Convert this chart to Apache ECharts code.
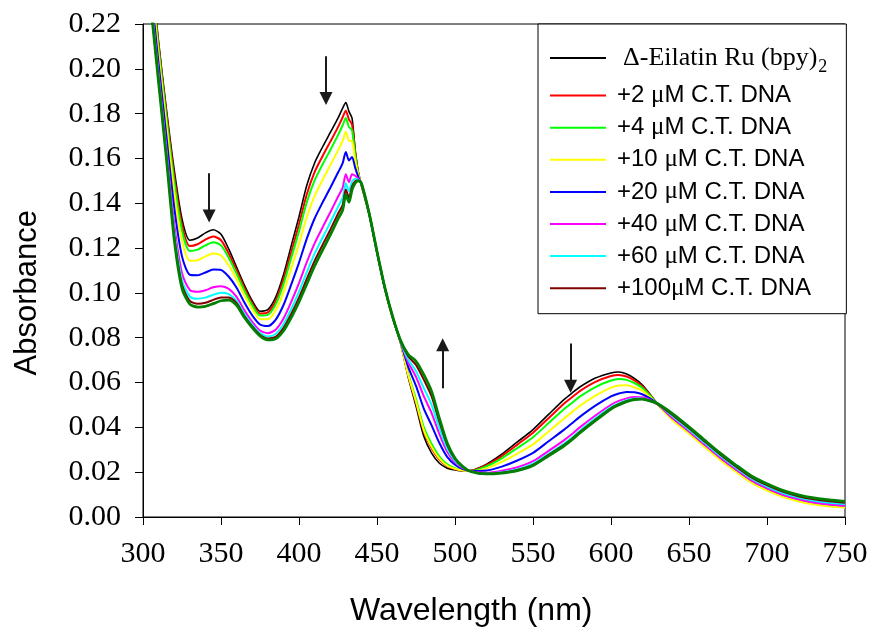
<!DOCTYPE html>
<html><head><meta charset="utf-8">
<script src="https://cdn.jsdelivr.net/npm/echarts@6/dist/echarts.min.js"></script>
<style>html,body{margin:0;padding:0;background:#fff}#c{width:873px;height:633px}</style>
</head><body><div id="c"></div>
<script>
const wavelength = [300,305,310,315,320,325,330,335,340,345,350,355,360,365,370,375,380,385,390,395,400,405,410,415,420,425,428,430,432,434,436,438,440,445,450,455,460,465,470,475,480,485,490,495,500,505,510,520,530,540,550,560,570,575,580,590,600,605,610,615,620,625,630,640,650,660,670,680,690,700,710,720,730,740,750];

const sBlack = [.275,.245,.212,.182,.155,.133,.1235,.1245,.1268,.1282,.1262,.1195,.1115,.1035,.0965,.0918,.0925,.0980,.1080,.1210,.1340,.1480,.1580,.1650,.1715,.1780,.1825,.1850,.1810,.1780,.1640,.1540,.1480,.1350,.1180,.1020,.0890,.0780,.0625,.0495,.0360,.0285,.0240,.0218,.0210,.0205,.0207,.0235,.0280,.0335,.0390,.0458,.0525,.0553,.0580,.0620,.0643,.0647,.0638,.0618,.0590,.0548,.0505,.0445,.0385,.0322,.0262,.0210,.0164,.0130,.0102,.0082,.0068,.0059,.0053];
const sRed = [.2738,.2435,.2104,.1800,.1522,.1302,.1209,.1217,.1238,.1252,.1235,.1175,.1100,.1022,.0954,.0908,.0913,.0963,.1058,.1181,.1306,.1440,.1539,.1609,.1674,.1740,.1784,.1813,.1774,.1751,.1627,.1536,.1481,.1351,.1181,.1021,.0891,.0781,.0633,.0511,.0382,.0307,.0256,.0227,.0214,.0207,.0206,.0231,.0272,.0323,.0376,.0441,.0506,.0534,.0562,.0603,.0629,.0634,.0627,.0610,.0584,.0545,.0503,.0439,.0383,.0324,.0266,.0213,.0164,.0129,.0100,.0080,.0066,.0057,.0051];
const sLime = [.2728,.2421,.2089,.1783,.1497,.1277,.1187,.1193,.1212,.1226,.1212,.1156,.1086,.1010,.0945,.0899,.0902,.0949,.1038,.1156,.1275,.1405,.1502,.1572,.1637,.1704,.1748,.1780,.1741,.1726,.1615,.1533,.1482,.1352,.1182,.1022,.0892,.0782,.0640,.0525,.0401,.0326,.0270,.0235,.0218,.0208,.0205,.0226,.0262,.0308,.0356,.0419,.0482,.0509,.0537,.0580,.0609,.0616,.0612,.0598,.0577,.0542,.0502,.0437,.0381,.0322,.0264,.0211,.0162,.0127,.0098,.0078,.0064,.0055,.0049];
const sYellow = [.2708,.2396,.2062,.1750,.1451,.1231,.1144,.1146,.1163,.1176,.1167,.1122,.1061,.0989,.0927,.0883,.0882,.0921,.1000,.1108,.1218,.1339,.1433,.1503,.1569,.1636,.1679,.1719,.1680,.1678,.1592,.1527,.1483,.1352,.1181,.1020,.0890,.0779,.0635,.0515,.0388,.0313,.0260,.0229,.0215,.0207,.0204,.0217,.0246,.0283,.0324,.0382,.0440,.0468,.0496,.0542,.0577,.0587,.0588,.0579,.0564,.0536,.0500,.0428,.0372,.0313,.0255,.0202,.0153,.0118,.0090,.0070,.0056,.0047,.0042];
const sBlue = [.2680,.2358,.2023,.1701,.1383,.1163,.1081,.1079,.1091,.1104,.1102,.1072,.1023,.0957,.0900,.0859,.0852,.0880,.0945,.1037,.1135,.1242,.1332,.1402,.1468,.1537,.1579,.1629,.1591,.1607,.1559,.1518,.1485,.1352,.1182,.1022,.0892,.0783,.0670,.0585,.0484,.0409,.0330,.0268,.0233,.0214,.0205,.0207,.0225,.0252,.0286,.0338,.0390,.0418,.0447,.0497,.0538,.0551,.0558,.0557,.0548,.0529,.0503,.0440,.0384,.0325,.0267,.0214,.0165,.0130,.0101,.0081,.0067,.0058,.0052];
const sMagenta = [.2649,.2317,.1980,.1648,.1308,.1088,.1013,.1005,.1012,.1025,.1030,.1018,.0982,.0922,.0871,.0832,.0820,.0836,.0885,.0960,.1044,.1137,.1221,.1291,.1359,.1429,.1470,.1530,.1494,.1530,.1523,.1509,.1487,.1353,.1183,.1023,.0893,.0784,.0690,.0625,.0539,.0464,.0370,.0291,.0244,.0218,.0204,.0197,.0206,.0222,.0249,.0295,.0343,.0370,.0400,.0453,.0501,.0518,.0529,.0535,.0534,.0522,.0502,.0438,.0382,.0323,.0265,.0212,.0163,.0128,.0099,.0079,.0065,.0056,.0050];
const sCyan = [.2636,.2300,.1962,.1626,.1277,.1057,.0984,.0974,.0979,.0992,.1001,.0995,.0965,.0907,.0859,.0821,.0806,.0817,.0860,.0928,.1006,.1093,.1175,.1245,.1313,.1384,.1425,.1489,.1454,.1498,.1508,.1505,.1488,.1353,.1184,.1024,.0894,.0785,.0703,.0651,.0575,.0500,.0396,.0305,.0251,.0221,.0204,.0194,.0200,.0213,.0238,.0282,.0328,.0355,.0385,.0440,.0490,.0507,.0521,.0529,.0529,.0520,.0503,.0446,.0390,.0331,.0273,.0220,.0171,.0136,.0107,.0087,.0073,.0064,.0058];
const sDarkRed = [.2627,.2289,.1949,.1611,.1256,.1036,.0964,.0952,.0956,.0969,.0980,.0979,.0954,.0897,.0851,.0813,.0797,.0804,.0843,.0906,.0979,.1062,.1143,.1213,.1281,.1353,.1393,.1461,.1425,.1476,.1498,.1502,.1489,.1354,.1184,.1024,.0894,.0787,.0717,.0679,.0613,.0538,.0424,.0321,.0258,.0223,.0204,.0193,.0198,.0210,.0233,.0277,.0322,.0349,.0379,.0434,.0485,.0503,.0517,.0526,.0527,.0519,.0504,.0452,.0396,.0337,.0279,.0226,.0177,.0142,.0113,.0093,.0079,.0070,.0064];
const sDarkGreen = [.262,.228,.194,.160,.124,.102,.0950,.0937,.0940,.0952,.0965,.0968,.0945,.0890,.0845,.0808,.0790,.0795,.0830,.0890,.0960,.1040,.1120,.1190,.1258,.1330,.1370,.1440,.1405,.1460,.1490,.1500,.1490,.1355,.1185,.1025,.0895,.0790,.0725,.0695,.0635,.0560,.0440,.0330,.0262,.0225,.0203,.0192,.0196,.0207,.0230,.0273,.0318,.0345,.0375,.0430,.0482,.0500,.0515,.0524,.0526,.0518,.0505,.0458,.0402,.0343,.0285,.0232,.0183,.0148,.0119,.0099,.0085,.0076,.0070];

const seriesNames = ['Δ-Eilatin Ru (bpy)2','+2 μM C.T. DNA','+4 μM C.T. DNA','+10 μM C.T. DNA','+20 μM C.T. DNA','+40 μM C.T. DNA','+60 μM C.T. DNA','+100μM C.T. DNA','+DNA (final)'];
const seriesValues = [sBlack,sRed,sLime,sYellow,sBlue,sMagenta,sCyan,sDarkRed,sDarkGreen];
const seriesColors = ['#000000','#ff0000','#00ff00','#ffff00','#0000ff','#ff00ff','#00ffff','#800000','#008000'];
const seriesWidths = [1.6,2,2,2,2,2,2,2,2.8];

// arrows: wavelength, start absorbance, tip absorbance
const arrowWl = [342.4, 417.3, 492.1, 574.1];
const arrowFrom = [0.1534, 0.2056, 0.0575, 0.0774];
const arrowTo = [0.1343, 0.1868, 0.0769, 0.0583];

const xMin = 300, xMax = 750, xStep = 50;
const yMin = 0, yMax = 0.22, yStep = 0.02;

const chart = echarts.init(document.getElementById('c'));
const series = seriesValues.map((vals, i) => ({
  name: seriesNames[i],
  type: 'line',
  data: wavelength.map((w, k) => [w, vals[k]]),
  symbol: 'none',
  smooth: 0.25,
  clip: true,
  lineStyle: { color: seriesColors[i], width: seriesWidths[i] },
  itemStyle: { color: seriesColors[i] },
  z: 2 + i
}));
series.push({
  name: 'arrows', type: 'line', data: [], silent: true,
  markLine: {
    silent: true, animation: false,
    symbol: ['none', 'triangle'], symbolSize: 13,
    label: { show: false },
    lineStyle: { color: '#1a1a1a', width: 2, type: 'solid' },
    itemStyle: { color: '#1a1a1a' },
    emphasis: { disabled: true },
    data: arrowWl.map((w, i) => [{ coord: [w, arrowFrom[i]] }, { coord: [w, arrowTo[i]] }])
  },
  z: 20
});

const serif = "'Liberation Serif','Times New Roman',serif";
const sans = "'Liberation Sans',Arial,sans-serif";

chart.setOption({
  animation: false,
  backgroundColor: '#fff',
  grid: { left: 143, right: 28, top: 24, bottom: 116, show: true, borderColor: '#000', borderWidth: 1, backgroundColor: 'transparent' },
  xAxis: {
    type: 'value', min: xMin, max: xMax, interval: xStep,
    axisLine: { show: true, onZero: false, lineStyle: { color: '#000', width: 1 } },
    axisTick: { show: true, inside: false, length: 8, lineStyle: { color: '#000' } },
    splitLine: { show: false },
    axisLabel: { color: '#000', fontFamily: serif, fontSize: 30, margin: 22 }
  },
  yAxis: {
    type: 'value', min: yMin, max: yMax, interval: yStep,
    axisLine: { show: true, lineStyle: { color: '#000', width: 1 } },
    axisTick: { show: true, inside: false, length: 8, lineStyle: { color: '#000' } },
    splitLine: { show: false },
    axisLabel: { color: '#000', fontFamily: serif, fontSize: 30, margin: 22, formatter: v => v.toFixed(2) }
  },
  legend: {
    data: seriesNames.slice(0, 8),
    orient: 'vertical', left: 538, top: 24,
    padding: [16, 19, 13, 12],
    itemGap: 7.1, itemWidth: 56, itemHeight: 2,
    icon: 'rect',
    borderColor: '#000', borderWidth: 1, backgroundColor: '#fff',
    selectedMode: false,
    formatter: function (name) {
      if (name.indexOf('Δ') === 0) return '{t|Δ-Eilatin Ru (bpy)}{s|2}';
      const i = name.indexOf('μ');
      return '{a0|' + name.slice(0, i) + '}{m|μ}{a|' + name.slice(i + 1) + '}';
    },
    textStyle: {
      color: '#000',
      rich: {
        t: { fontFamily: serif, fontSize: 26, lineHeight: 26, padding: [0, 0, 0, 12], color: '#000' },
        s: { fontFamily: serif, fontSize: 18, lineHeight: 18, padding: [18, 0, 0, 1], color: '#000' },
        a0: { fontFamily: sans, fontSize: 24, lineHeight: 24, padding: [0, 0, 0, 6], color: '#000' },
        a: { fontFamily: sans, fontSize: 24, lineHeight: 24, color: '#000' },
        m: { fontFamily: serif, fontSize: 25, lineHeight: 24, color: '#000' }
      }
    }
  },
  graphic: [
    { type: 'text', left: 12, top: 210, rotation: Math.PI / 2, style: { text: 'Absorbance', font: "31px 'Liberation Sans', Arial, sans-serif", fill: '#000' } },
    { type: 'text', left: 350, top: 595, style: { text: 'Wavelength (nm)', font: "32px 'Liberation Sans', Arial, sans-serif", fill: '#000' } }
  ],
  series: series
});
</script></body></html>
